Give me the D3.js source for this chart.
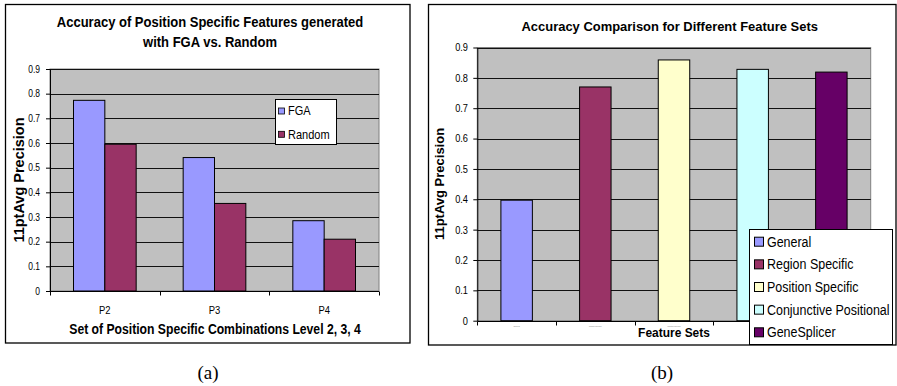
<!DOCTYPE html>
<html>
<head>
<meta charset="utf-8">
<script src="https://cdn.jsdelivr.net/npm/d3@7"></script>
<style>
  html, body { margin: 0; padding: 0; background: #fff; }
  svg { display: block; }
</style>
</head>
<body>
<svg id="fig" width="897" height="386"></svg>
<script>
// ---- Panel (a): position specific features, FGA vs. Random ----
const combos = ["P2", "P3", "P4"];
const methods = ["FGA", "Random"];
const fgaValues = [0.773, 0.541, 0.285];
const randomValues = [0.595, 0.355, 0.210];

// ---- Panel (b): accuracy for the feature sets ----
const featureSets = ["General", "Region Specific", "Position Specific", "Conjunctive Positional", "GeneSplicer"];
const featureValues = [0.397, 0.770, 0.859, 0.828, 0.819];

// shared y ticks for both panels
const precisionTicks = [0, 0.1, 0.2, 0.3, 0.4, 0.5, 0.6, 0.7, 0.8, 0.9];

const methodColors = ["#9999FF", "#993366"];
const featureColors = ["#9999FF", "#993366", "#FFFFCC", "#CCFFFF", "#660066"];

const SANS = "'Liberation Sans', Arial, Helvetica, sans-serif";
const SERIF = "'Liberation Serif', 'Times New Roman', serif";

const svg = d3.select("#fig");

// text helper: positioned group, optional rotation and horizontal squeeze
function label(parent, o) {
  const g = parent.append("g")
    .attr("transform", `translate(${o.x},${o.y}) rotate(${o.rotate || 0}) scale(${o.sx || 1},1)`);
  g.append("text")
    .attr("text-anchor", o.anchor || "middle")
    .attr("font-family", o.family || SANS)
    .attr("font-size", o.size)
    .attr("font-weight", o.weight || "normal")
    .attr("fill", o.fill || "#000")
    .text(o.text);
  return g;
}

function plotFrame(g, y, left, right) {
  const [y0, y1] = y.range();
  g.append("rect")
    .attr("x", left).attr("y", y1)
    .attr("width", right - left).attr("height", y0 - y1)
    .attr("fill", "#C0C0C0").attr("stroke", "#808080").attr("stroke-width", 1);
  g.append("g").selectAll("line")
    .data(precisionTicks.filter(t => t > 0))
    .join("line")
    .attr("x1", left).attr("x2", right)
    .attr("y1", d => Math.round(y(d)) + 0.5).attr("y2", d => Math.round(y(d)) + 0.5)
    .attr("stroke", "#111").attr("stroke-width", 1);
}

function yAxis(g, y, left, fontSize, squeeze, padding) {
  const ax = g.append("g")
    .attr("transform", `translate(${left},0)`)
    .call(d3.axisLeft(y).tickValues(precisionTicks)
      .tickFormat(d => d === 0 ? "0" : d3.format(".1f")(d))
      .tickSizeInner(4).tickSizeOuter(0).tickPadding(padding));
  ax.select(".domain").attr("stroke", "#000");
  ax.selectAll(".tick line").attr("stroke", "#000");
  ax.selectAll(".tick text")
    .attr("font-family", SANS).attr("font-size", fontSize).attr("fill", "#000")
    .attr("transform", `scale(${squeeze},1)`);
  ax.attr("font-family", null).attr("font-size", null);
  return ax;
}

function xBase(g, x, y, boundaries) {
  const y0 = Math.round(y(0)) + 0.5;
  const [l, r] = x.range();
  g.append("line").attr("x1", l).attr("x2", r).attr("y1", y0).attr("y2", y0)
    .attr("stroke", "#000").attr("stroke-width", 1);
  g.append("g").selectAll("line").data(boundaries).join("line")
    .attr("x1", d => Math.round(d) + 0.5).attr("x2", d => Math.round(d) + 0.5)
    .attr("y1", y0).attr("y2", y0 + 4)
    .attr("stroke", "#000").attr("stroke-width", 1);
}

// =================== panel (a) ===================
{
  const g = svg.append("g");
  g.append("rect").attr("x", 5.5).attr("y", 4.5).attr("width", 404.5).attr("height", 338.5)
    .attr("fill", "#fff").attr("stroke", "#000").attr("stroke-width", 1.3);

  const left = 50, right = 379;
  const y = d3.scaleLinear().domain([0, 0.9]).range([291, 69]);
  const x0 = d3.scaleBand().domain(combos).range([left, right]).paddingInner(0).paddingOuter(0);
  const bw = x0.bandwidth();
  const x1 = d3.scaleBand().domain(methods).range([bw * 0.75 / 3.5, bw * 2.75 / 3.5]);

  plotFrame(g, y, left, right);

  const rows = combos.map((c, i) => ({ combo: c, values: [fgaValues[i], randomValues[i]] }));
  g.append("g").selectAll("g").data(rows).join("g")
    .attr("transform", d => `translate(${x0(d.combo)},0)`)
    .selectAll("rect")
    .data(d => d.values.map((v, k) => ({ method: methods[k], value: v, k })))
    .join("rect")
    .attr("x", d => x1(d.method))
    .attr("width", x1.bandwidth())
    .attr("y", d => y(d.value))
    .attr("height", d => y(0) - y(d.value))
    .attr("fill", d => methodColors[d.k])
    .attr("stroke", "#000").attr("stroke-width", 1);

  yAxis(g, y, left, 10, 0.85, 7.8);
  xBase(g, x0, y, combos.map(c => x0(c)).concat([right]));

  combos.forEach(c => label(g, { x: x0(c) + bw / 2, y: 314, text: c, size: 10.5, sx: 0.9 }));

  label(g, { x: 210, y: 27, text: "Accuracy of Position Specific Features generated", size: 14, weight: "bold", sx: 0.93 });
  label(g, { x: 210, y: 46.5, text: "with FGA vs. Random", size: 14, weight: "bold", sx: 0.93 });
  label(g, { x: 215, y: 334, text: "Set of Position Specific Combinations Level 2, 3, 4", size: 14, weight: "bold", sx: 0.87 });
  label(g, { x: 24, y: 180, text: "11ptAvg Precision", size: 14.5, weight: "bold", rotate: -90 });

  // legend
  const lg = g.append("g");
  lg.append("rect").attr("x", 275.5).attr("y", 99.5).attr("width", 61).attr("height", 45)
    .attr("fill", "#fff").attr("stroke", "#000").attr("stroke-width", 1);
  methods.forEach((m, i) => {
    const cy = 111 + i * 23.3;
    lg.append("rect").attr("x", 278.5).attr("y", cy - 3).attr("width", 6).attr("height", 6)
      .attr("fill", methodColors[i]).attr("stroke", "#000").attr("stroke-width", 0.8);
    label(lg, { x: 288, y: cy + 4.3, text: m, size: 12, anchor: "start", sx: 0.92 });
  });

  label(svg, { x: 208, y: 379, text: "(a)", size: 19, family: SERIF });
}

// =================== panel (b) ===================
{
  const g = svg.append("g");
  g.append("rect").attr("x", 428.5).attr("y", 4.5).attr("width", 467.5).attr("height", 340.5)
    .attr("fill", "#fff").attr("stroke", "#000").attr("stroke-width", 1.3);

  const left = 477.3, right = 870.7;
  const legendLeft = 749.5;
  const y = d3.scaleLinear().domain([0, 0.9]).range([320.7, 47.5]);
  const x = d3.scaleBand().domain(featureSets).range([left, right]).paddingInner(0).paddingOuter(0);
  const bw = x.bandwidth();

  plotFrame(g, y, left, right);

  g.append("g").selectAll("rect")
    .data(featureSets.map((f, i) => ({ f, v: featureValues[i], i })))
    .join("rect")
    .attr("x", d => x(d.f) + bw * 0.3)
    .attr("width", bw * 0.4)
    .attr("y", d => y(d.v))
    .attr("height", d => y(0) - y(d.v))
    .attr("fill", d => featureColors[d.i])
    .attr("stroke", "#000").attr("stroke-width", 1);

  yAxis(g, y, left, 10.5, 0.88, 6.6);
  xBase(g, x, y, featureSets.map(f => x(f)).concat([right]));

  // category names under the bars are printed very small; the legend hides the last ones
  featureSets.filter(f => x(f) + bw / 2 < legendLeft)
    .forEach(f => label(g, { x: x(f) + bw / 2, y: 326.5, text: f, size: 1.8, fill: "#777" }));

  label(g, { x: 669.7, y: 30.5, text: "Accuracy Comparison for Different Feature Sets", size: 13.5, weight: "bold", sx: 0.96 });
  label(g, { x: 674, y: 336.5, text: "Feature Sets", size: 13, weight: "bold", sx: 0.92 });
  label(g, { x: 444, y: 184, text: "11ptAvg Precision", size: 13, weight: "bold", rotate: -90 });

  // legend
  const lg = g.append("g");
  lg.append("rect").attr("x", legendLeft).attr("y", 229.5).attr("width", 143).attr("height", 115)
    .attr("fill", "#fff").attr("stroke", "#000").attr("stroke-width", 1);
  featureSets.forEach((f, i) => {
    const cy = 241.7 + i * 22.65;
    lg.append("rect").attr("x", legendLeft + 5).attr("y", cy - 4.5).attr("width", 9).attr("height", 9)
      .attr("fill", featureColors[i]).attr("stroke", "#000").attr("stroke-width", 1);
    label(lg, { x: legendLeft + 17.5, y: cy + 5, text: f, size: 14, anchor: "start", sx: 0.89 });
  });

  label(svg, { x: 662, y: 379, text: "(b)", size: 19, family: SERIF });
}
</script>
</body>
</html>
